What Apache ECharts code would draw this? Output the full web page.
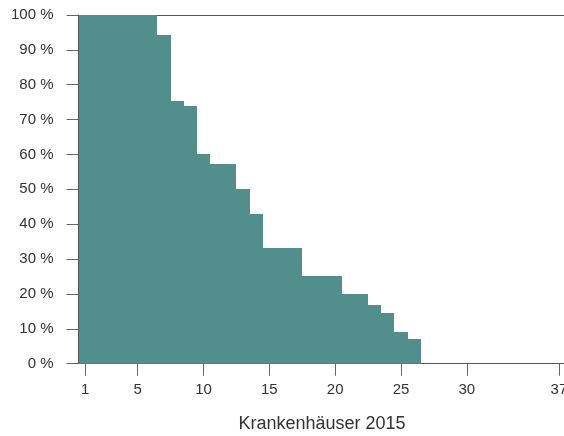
<!DOCTYPE html>
<html>
<head>
<meta charset="utf-8">
<script src="https://cdn.jsdelivr.net/npm/echarts@6/dist/echarts.min.js"></script>
<style>
html,body{margin:0;padding:0;background:#fff;}
#chart{width:564px;height:436px;}
</style>
</head>
<body>
<div id="chart"></div>
<script>
// Hospital rank (1..26) and share in percent
var hospitals = [1, 2, 3, 4, 5, 6, 7, 8, 9, 10, 11, 12, 13, 14, 15, 16, 17, 18, 19, 20, 21, 22, 23, 24, 25, 26];
var shares = [100, 100, 100, 100, 100, 100, 94.4, 75.3, 73.9, 60.1, 57.2, 57.2, 50.1, 43.0, 33.3, 33.3, 33.3, 25.1, 25.1, 25.1, 20.1, 20.1, 16.7, 14.4, 9.2, 7.1];
var xTicks = [1, 5, 10, 15, 20, 25, 30, 37];
var xName = 'Krankenhäuser 2015';

var data = hospitals.map(function (h, i) { return [h, shares[i]]; });

var font = 'Liberation Sans, Arial, sans-serif';
var chart = echarts.init(document.getElementById('chart'), null, { renderer: 'canvas' });
chart.setOption({
  animation: false,
  backgroundColor: '#fff',
  grid: {
    left: 78.5, top: 15, width: 487, bottom: 72.3,
    containLabel: false,
    outerBoundsMode: 'none'
  },
  xAxis: [{
    type: 'value',
    position: 'bottom',
    min: 0.5, max: 37.5,
    name: xName,
    nameLocation: 'middle',
    nameGap: 51,
    nameTextStyle: { fontFamily: font, fontSize: 18, color: '#333' },
    axisLine: { show: true, lineStyle: { color: '#555', width: 1 } },
    axisTick: { show: true, length: 12, lineStyle: { color: '#666' }, customValues: xTicks },
    axisLabel: { show: true, margin: 19, fontFamily: font, fontSize: 15, color: '#333', customValues: xTicks },
    splitLine: { show: false }
  }, {
    type: 'value',
    position: 'top',
    min: 0.5, max: 37.5,
    axisLine: { show: true, lineStyle: { color: '#555', width: 1 } },
    axisTick: { show: false },
    axisLabel: { show: false },
    splitLine: { show: false }
  }],
  yAxis: {
    type: 'value',
    min: 0, max: 100, interval: 10,
    axisLine: { show: true, lineStyle: { color: '#555', width: 1 } },
    axisTick: { show: true, length: 12, lineStyle: { color: '#666' } },
    axisLabel: { margin: 25, fontFamily: font, fontSize: 15, color: '#333', formatter: '{value} %' },
    splitLine: { show: false }
  },
  series: [{
    type: 'custom',
    xAxisIndex: 0,
    data: data,
    clip: true,
    renderItem: function (params, api) {
      var x = api.value(0), v = api.value(1);
      var p0 = api.coord([x - 0.5, v]);
      var p1 = api.coord([x + 0.5, 0]);
      var x0 = Math.round(p0[0]), x1 = Math.round(p1[0]);
      var y0 = Math.round(p0[1]), y1 = Math.round(p1[1]);
      return {
        type: 'rect',
        shape: { x: x0, y: y0, width: x1 - x0, height: y1 - y0 },
        style: { fill: '#528f8c' }
      };
    },
    z: 1
  }]
});
</script>
</body>
</html>
